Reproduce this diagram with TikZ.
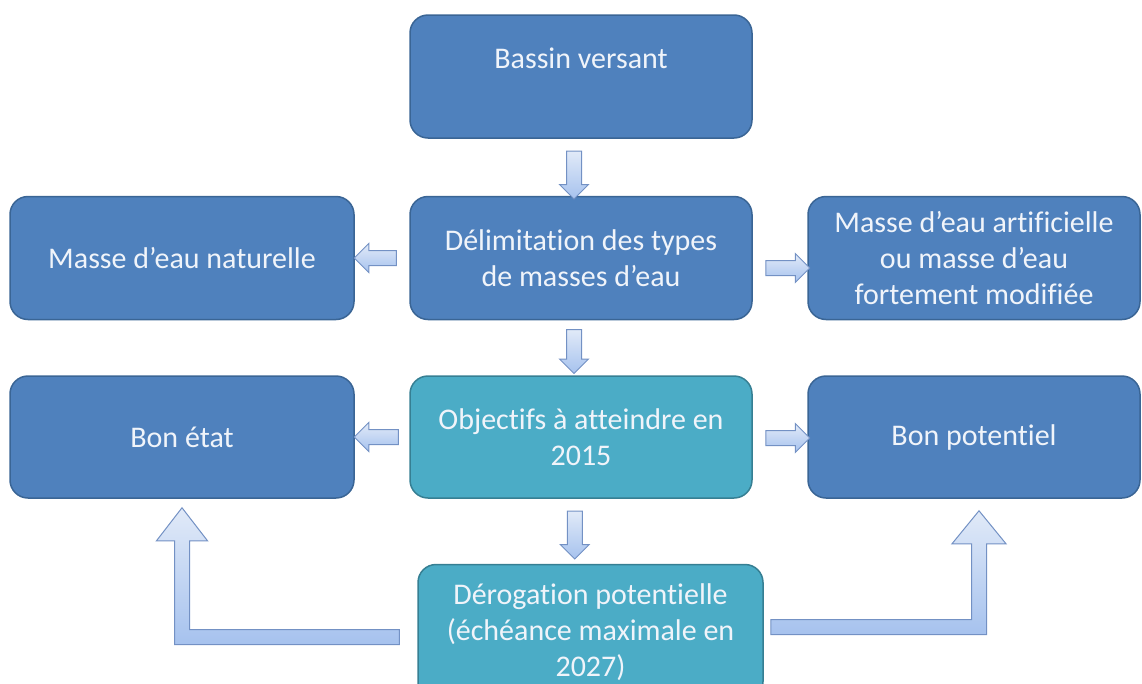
\documentclass[tikz,border=0pt]{standalone}
\usepackage{fontspec}
\setmainfont{Carlito}[RawFeature={-liga;-clig;-calt;-dlig}]
\usetikzlibrary{shapes.arrows,calc}

\definecolor{boxblue}{HTML}{4F81BD}
\definecolor{boxedge}{HTML}{3A6595}
\definecolor{boxteal}{HTML}{4BACC6}
\definecolor{tealedge}{HTML}{367F93}
\definecolor{boxtext}{HTML}{F0F4FA}
\definecolor{arrowtop}{HTML}{E1EAF8}
\definecolor{arrowbot}{HTML}{A6C2EE}
\definecolor{arrowedge}{HTML}{7391C4}

\begin{document}
\begin{tikzpicture}[x=1pt, y=-1pt,
    stepbox/.style={draw=boxedge, fill=boxblue, line width=1.5pt,
      rounded corners=18pt, text=boxtext, align=center, inner sep=0pt,
      font=\fontsize{30}{36}\selectfont,
      minimum width=342pt, minimum height=123pt},
    goalbox/.style={stepbox, draw=tealedge, fill=boxteal},
    flow/.style={single arrow, draw=arrowedge, line width=1pt,
      top color=arrowtop, bottom color=arrowbot, inner sep=7pt,
      single arrow head extend=7pt, single arrow head indent=0pt},
    bigflow/.style={draw=arrowedge, line width=1pt,
      top color=arrowtop, bottom color=arrowbot}]

    \useasboundingbox (0,0) rectangle (1142,683);

    % Boxes
    \node[stepbox] (bassin) at (581,76.5) {Bassin versant\\ \mbox{}};
    \node[stepbox] (delim) at (581,258) {Délimitation des types\\de masses d’eau};
    \node[stepbox, minimum width=344pt] (natur) at (182,258) {Masse d’eau naturelle};
    \node[stepbox, minimum width=332pt] (artif) at (974,258)
      {Masse d’eau artificielle\\ou masse d’eau\\fortement modifiée};
    \node[goalbox, minimum height=122pt] (objec) at (581,437) {Objectifs à atteindre en\\2015};
    \node[stepbox, minimum width=344pt, minimum height=122pt] (etat) at (182,437) {Bon état};
    \node[stepbox, minimum width=332pt, minimum height=122pt] (poten) at (974,437) {Bon potentiel};
    \node[goalbox, minimum width=345pt, minimum height=135pt] (derog) at (590.5,632)
      {Dérogation potentielle\\(échéance maximale en\\2027)};

    % Straight arrows
    \node[flow, shape border rotate=270, minimum height=48pt] (a1)
      at ($(bassin.south)!.5!(delim.north)+(-7,4)$) {};
    \node[flow, shape border rotate=180, minimum height=42pt] (a2)
      at ($(natur.east)!.5!(delim.west)+(-3,0)$) {};
    \node[flow, minimum height=44pt] (a3)
      at ($(delim.east)!.5!(artif.west)+(4,10)$) {};
    \node[flow, shape border rotate=270, minimum height=44pt] (a4)
      at ($(delim.south)!.5!(objec.north)+(-7,0)$) {};
    \node[flow, shape border rotate=180, minimum height=44pt] (a5)
      at ($(etat.east)!.5!(objec.west)+(-2,0)$) {};
    \node[flow, minimum height=44pt] (a6)
      at ($(objec.east)!.5!(poten.west)+(4,1)$) {};
    \node[flow, shape border rotate=270, minimum height=48pt] (a7)
      at ($(objec.south)!.5!(derog.north)+(-11,0)$) {};

    % Bent arrows from the derogation
    \draw[bigflow] let \p1=([xshift=-18pt,yshift=-5pt]derog.west),
        \p2=([yshift=-9pt]etat.south) in
      (\x1,\y1+7.5pt) -- (\x2+7.5pt,\y1+7.5pt) -- (\x2+7.5pt,\y2-33pt)
      -- (\x2+25.5pt,\y2-33pt) -- (\x2,\y2) -- (\x2-25.5pt,\y2-33pt)
      -- (\x2-7.5pt,\y2-33pt) -- (\x2-7.5pt,\y1-7.5pt) -- (\x1,\y1-7.5pt) -- cycle;
    \draw[bigflow] let \p1=([xshift=7pt,yshift=5pt]derog.east),
        \p2=([xshift=5pt,yshift=-12pt]poten.south) in
      (\x1,\y1+7.5pt) -- (\x2-7.5pt,\y1+7.5pt) -- (\x2-7.5pt,\y2-33pt)
      -- (\x2-27pt,\y2-33pt) -- (\x2,\y2) -- (\x2+27pt,\y2-33pt)
      -- (\x2+7.5pt,\y2-33pt) -- (\x2+7.5pt,\y1-7.5pt) -- (\x1,\y1-7.5pt) -- cycle;
  \end{tikzpicture}
\end{document}
